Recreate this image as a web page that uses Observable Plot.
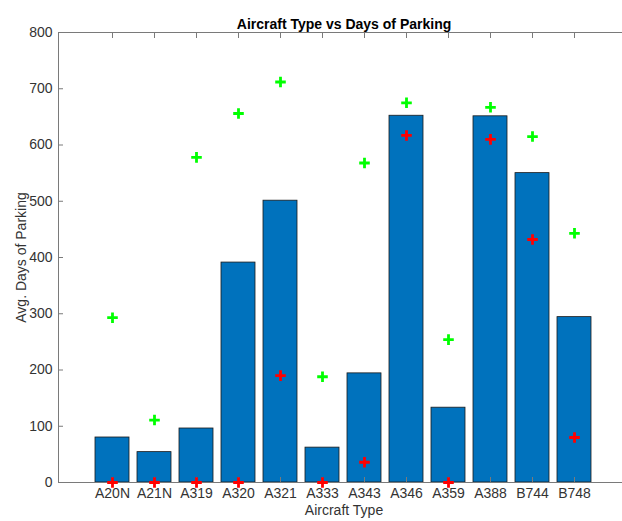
<!DOCTYPE html>
<html>
<head>
<meta charset="utf-8">
<script src="https://cdn.jsdelivr.net/npm/d3@7"></script>
<script src="https://cdn.jsdelivr.net/npm/@observablehq/plot@0.6"></script>
<style>
  html, body { margin: 0; padding: 0; background: #fff; overflow: hidden; }
  #chart svg { display: block; overflow: hidden; }
</style>
</head>
<body>
<div id="chart"></div>
<script>
const categories = ["A20N","A21N","A319","A320","A321","A333","A343","A346","A359","A388","B744","B748"];
const avgDays = [80, 54, 96, 391, 501, 62, 194, 652, 133, 651, 550, 294];
const maxDays = [293, 111, 578, 656, 712, 188, 568, 675, 254, 667, 615, 443];
const minDays = [0, 0, 0, 0, 190, 0, 36, 617, 0, 610, 432, 80];
const yTicks = [0, 100, 200, 300, 400, 500, 600, 700, 800];

const rows = categories.map((c, i) => ({type: c, avg: avgDays[i], max: maxDays[i], min: minDays[i]}));

const axisColor = "#7a7a7a";
const textColor = "#333333";

const chart = Plot.plot({
  width: 622,
  height: 521,
  marginLeft: 58,
  marginRight: 0,
  marginTop: 32,
  marginBottom: 39,
  style: {fontFamily: "'Liberation Sans', Arial, Helvetica, sans-serif", fontSize: "14px", background: "#fff"},
  x: {type: "band", domain: categories, range: [58, 628], paddingInner: 0.2, paddingOuter: 0.77},
  y: {domain: [0, 800], range: [482, 32]},
  marks: [
    Plot.barY(rows, {x: "type", y: "avg", fill: "#0072BD", stroke: "#1a1a1a", strokeWidth: 0.8}),
    Plot.ruleY([0, 800], {stroke: axisColor, strokeWidth: 1}),
    Plot.frame({anchor: "left", stroke: axisColor, strokeWidth: 1}),
    Plot.axisY(yTicks, {anchor: "left", tickSize: -5, text: null, label: null, stroke: axisColor}),
    Plot.axisY(yTicks, {anchor: "left", tickSize: 0, tickPadding: 6, label: null, fill: textColor, fontSize: 14}),
    Plot.axisX({anchor: "bottom", tickSize: -5, text: null, label: null, stroke: axisColor}),
    Plot.axisX({anchor: "top", tickSize: -5, text: null, label: null, stroke: axisColor}),
    Plot.axisX({anchor: "bottom", tickSize: 0, tickPadding: 6, label: null, fill: textColor, fontSize: 14}),
    Plot.dot(rows, {x: "type", y: "max", symbol: "plus", r: 3.5, stroke: "#00ff00", strokeWidth: 2.8}),
    Plot.dot(rows, {x: "type", y: "min", symbol: "plus", r: 3.5, stroke: "#ff0000", strokeWidth: 2.8}),
    Plot.text(["Aircraft Type vs Days of Parking"], {text: d => d, frameAnchor: "top", dx: 3.5, dy: -13, fontWeight: "bold", fontSize: 14, fill: "#000"}),
    Plot.text(["Avg. Days of Parking"], {text: d => d, frameAnchor: "left", textAnchor: "middle", rotate: -90, dx: -37, fontSize: 14, fill: textColor}),
    Plot.text(["Aircraft Type"], {text: d => d, frameAnchor: "bottom", dx: 3.5, dy: 32, fontSize: 14, fill: textColor})
  ]
});
document.getElementById("chart").appendChild(chart);
</script>
</body>
</html>
